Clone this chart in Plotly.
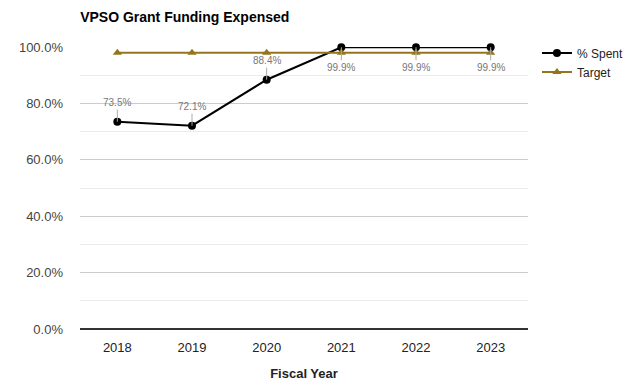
import plotly.graph_objects as go

years = ["2018", "2019", "2020", "2021", "2022", "2023"]
spent = [0.735, 0.721, 0.884, 0.999, 0.999, 0.999]
target = [0.98, 0.98, 0.98, 0.98, 0.98, 0.98]
spent_labels = ["73.5%", "72.1%", "88.4%", "99.9%", "99.9%", "99.9%"]
label_above = [True, True, True, False, False, False]

fig = go.Figure()
fig.add_trace(go.Scatter(
    x=years, y=spent, name="% Spent", mode="lines+markers",
    line=dict(color="#000000", width=2),
    marker=dict(symbol="circle", size=8, color="#000000"),
    cliponaxis=False,
))
fig.add_trace(go.Scatter(
    x=years, y=target, name="Target", mode="lines+markers",
    line=dict(color="#94741c", width=2),
    marker=dict(symbol="triangle-up", size=8, color="#94741c"),
    cliponaxis=False,
))

for i, (y, t, above) in enumerate(zip(spent, spent_labels, label_above)):
    fig.add_annotation(
        x=i, y=y, xref="x", yref="y", text=t, showarrow=True, arrowhead=0,
        arrowwidth=1, arrowcolor="#aaaaaa", ax=0, ay=-19 if above else 20,
        font=dict(family="Arial", size=10, color="#777777"),
    )

fig.update_layout(
    width=626, height=381,
    margin=dict(l=80, r=98, t=47, b=52, autoexpand=False),
    paper_bgcolor="white", plot_bgcolor="white",
    font=dict(family="Arial", size=13, color="#444444"),
    title=dict(text="<b>VPSO Grant Funding Expensed</b>", x=0.128, xanchor="left",
               y=0.955, yanchor="middle",
               font=dict(family="Arial", size=14, color="#000000")),
    legend=dict(x=1.02, y=1.03, xanchor="left", yanchor="top",
                font=dict(family="Arial", size=12, color="#222222"),
                bgcolor="rgba(0,0,0,0)", tracegroupgap=0, itemwidth=30),
    showlegend=True,
)
fig.update_xaxes(
    type="category", range=[-0.5, 5.5], showgrid=False, showline=False,
    ticks="", ticklabelstandoff=9,
    tickfont=dict(family="Arial", size=13, color="#222222"),
    title=dict(text="<b>Fiscal Year</b>", font=dict(family="Arial", size=13, color="#222222"),
               standoff=14),
)
fig.update_yaxes(
    range=[0, 1.0], tickmode="linear", tick0=0, dtick=0.2, tickformat=".1%",
    showgrid=True, gridcolor="#cccccc", gridwidth=1,
    minor=dict(tickmode="linear", tick0=0, dtick=0.1, showgrid=True,
               gridcolor="#ebebeb", gridwidth=1),
    zeroline=True, zerolinecolor="#333333", zerolinewidth=1.5,
    showline=False, ticks="", ticklabelstandoff=16,
    tickfont=dict(family="Arial", size=13, color="#444444"),
)

fig.write_html("out.html")
